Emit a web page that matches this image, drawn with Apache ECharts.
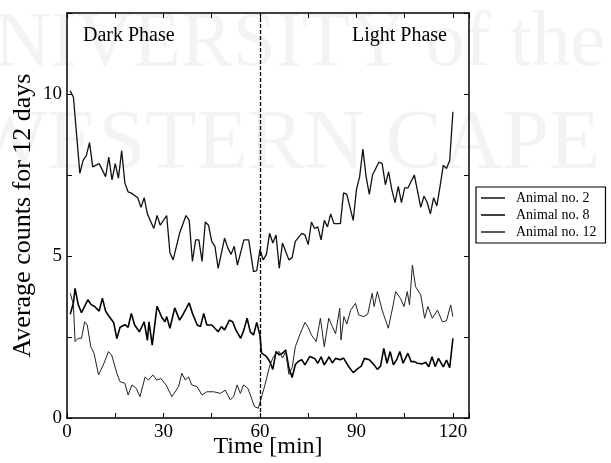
<!DOCTYPE html>
<html>
<head>
<meta charset="utf-8">
<script src="https://cdn.jsdelivr.net/npm/echarts@6/dist/echarts.min.js"></script>
<style>html,body{margin:0;padding:0;background:#fff;}#c{width:611px;height:463px;}</style>
</head>
<body>
<div id="c"></div>
<script>
// ---- Data ----
var seriesNames = ['Animal no. 2', 'Animal no. 8', 'Animal no. 12'];
var xTickLabels = [0, 30, 60, 90, 120];
var yTickLabels = [0, 5, 10];
var phaseLabels = ['Dark Phase', 'Light Phase'];
var phaseBoundary = 60;

var timeA = [1,2,4,5,6,7,8,10,12,13,14,15,16,17,18,19,20,22,23,24,25,27,28,29,31,32,33,35,37,38,39,40,41,42,43,44,45,46,47,49,50,51,52,53,55,56.5,58,59,60,61,62,63,64,65,66,67,69,70,71,73,74,75,76,77,78,79,80,81,82,83,85,86,87,89,90,91,92,93,94,95,97,98,99,100,101,102,103,104,105,106,108,109,110,111,112,113,114,115,116,117,118,119,120];
var valA  = [10.1,9.9,7.55,7.95,8.1,8.5,7.75,7.85,7.45,8.05,7.35,7.85,7.4,8.25,7.25,6.98,6.94,6.8,6.5,6.8,6.3,5.85,6.25,5.95,6.25,5.1,4.88,5.7,6.25,6.1,4.83,5.5,5.5,4.83,6.05,5.95,5.45,5.3,4.62,5.55,5.25,5.05,5.3,4.72,5.5,5.5,4.52,4.55,5.2,4.88,5.05,5.7,5.4,5.65,4.62,5.4,4.88,4.95,5.45,5.7,5.65,5.35,6.05,5.85,5.9,5.5,6.1,5.9,6.3,6.0,6.0,6.95,6.9,6.1,7.05,7.45,8.3,7.45,6.9,7.5,7.9,7.85,7.2,7.6,7.05,6.65,7.15,6.65,7.1,7.1,7.5,7.0,6.5,6.85,6.65,6.3,6.8,6.55,7.15,7.8,7.7,7.95,9.45];

var timeB = [1,2,2.5,3.5,4.5,6.5,7.5,8.5,10,11,12,13,14.5,15.5,16.5,18,19,20,21,22.5,24,25,25.5,26.5,28,29.5,30.5,31,32,33.5,35,36,38,39,40.5,41.5,42.5,43.5,45,46,47,48,49,50.5,51.5,52.5,54,55,56,57,58,59,60,60.5,62,63,64,65,66,67,68,69,70,71,72,73,74,75.5,77,78,79,80,81.5,82.5,83.5,85,86,87.5,89,90.5,91.5,92.5,94,95.5,96.5,97.5,98.5,99.5,100.5,101.5,102.5,103.5,104.5,106,107,108,109,110.5,111.5,112.5,113.5,114.5,115.5,117,118,119,120];
var valB  = [3.2,3.55,4.0,3.5,3.25,3.65,3.5,3.45,3.3,3.7,3.3,3.15,2.95,2.45,2.8,2.88,2.8,3.23,2.88,2.66,2.97,2.4,2.97,2.25,3.45,3.1,2.97,3.13,2.77,3.4,3.02,3.18,3.55,3.23,2.87,2.82,3.23,2.87,2.87,2.77,2.66,2.82,2.72,3.02,2.97,2.72,2.46,2.72,3.08,2.66,2.56,2.95,2.55,2.0,1.9,1.75,1.5,2.05,1.95,2.0,2.1,1.55,1.25,1.65,1.75,1.8,1.64,1.9,1.84,1.69,1.89,1.64,1.89,1.7,1.84,1.8,1.85,1.6,1.4,1.53,1.6,1.84,1.8,1.64,1.5,1.6,2.15,1.69,2.05,1.64,1.8,2.05,1.69,2.0,1.74,1.74,1.69,1.67,1.72,1.58,1.89,1.58,1.84,1.58,1.79,1.55,2.46];

var timeC = [1,2,2.5,3.5,4.5,5.5,6.3,7.4,8.4,9.8,11.3,12.9,13.9,15.5,16.5,18,19,20.2,21.5,22.7,24.3,25.3,26.7,27.9,29.2,30.8,32.6,34.7,35.7,36.8,37.8,38.8,40.4,42,43.5,45.6,47.7,49.2,50.8,51.8,52.9,53.9,54.9,56.2,57.2,58.3,59.5,60,61.5,63,64,65,66,67,68,69,70,71,72.5,74,75,76,77.5,78.8,80,81.4,82.5,83.5,84.8,85.2,86.1,87,88.2,89.7,90.7,92.3,93.5,94.9,95.5,96.5,98,99.9,101.1,102.2,103.7,104.8,105.8,106.5,107.4,108.4,110,111.2,112.2,113.6,115.2,116.7,118,119.3,120];
var valC  = [3.85,3.5,2.36,2.46,2.46,2.97,2.87,2.2,2.0,1.33,1.64,2.05,1.94,1.38,1.12,1.07,0.71,1.02,0.92,0.66,1.27,1.17,1.33,1.17,1.22,1.02,0.66,0.97,1.38,1.17,1.27,1.02,0.97,0.71,0.81,0.81,0.76,0.86,0.56,0.66,1.02,0.76,1.02,0.92,0.66,0.35,0.3,0.35,1.0,1.6,1.85,2.0,2.05,1.85,2.05,1.35,1.55,2.2,2.6,2.95,2.8,2.56,2.36,3.08,2.2,3.08,2.82,2.6,3.39,2.41,3.13,2.9,3.33,3.54,3.18,3.13,3.2,3.85,3.44,3.9,3.33,2.77,3.33,3.9,3.69,3.44,3.9,3.49,4.72,4.05,3.8,3.08,3.44,3.08,3.33,2.97,3.0,3.49,3.13];

function pairs(t, v) { return t.map(function (x, i) { return [x, v[i]]; }); }

var FONT = '"Liberation Serif", "Times New Roman", serif';
var chart = echarts.init(document.getElementById('c'), null, {renderer: 'canvas'});

var baseX = {
  type: 'value', min: 0, max: 125, interval: 15,
  axisLine: {show: true, onZero: false, lineStyle: {color: '#000', width: 1.5}},
  axisTick: {show: true, inside: true, length: 5, lineStyle: {color: '#000', width: 1}},
  splitLine: {show: false}
};
var baseY = {
  type: 'value', min: 0, max: 12.5, interval: 2.5,
  axisLine: {show: true, onZero: false, lineStyle: {color: '#000', width: 1.5}},
  axisTick: {show: true, inside: true, length: 5, lineStyle: {color: '#000', width: 1}},
  splitLine: {show: false}
};

var lineColors = ['#111', '#000', '#222'];

var option = {
  backgroundColor: '#fff',
  animation: false,
  grid: {left: 67, right: 142, top: 13, bottom: 45, containLabel: false, outerBoundsMode: 'none'},
  graphic: [
    {type: 'text', left: -62, top: 6, z: -10, silent: true,
      style: {text: 'UNIVERSITY of the', fill: '#f3f3f3', font: '78px ' + FONT}},
    {type: 'text', left: -32, top: 104, z: -10, silent: true,
      style: {text: 'WESTERN CAPE', fill: '#f3f3f3', font: '84px ' + FONT}},
    {type: 'text', left: 83, top: 26, z: 10,
      style: {text: phaseLabels[0], fill: '#000', font: '20px ' + FONT}},
    {type: 'text', left: 352, top: 26, z: 10,
      style: {text: phaseLabels[1], fill: '#000', font: '20px ' + FONT}}
  ],
  legend: {
    orient: 'vertical', left: 476, top: 187,
    data: seriesNames.map(function (n) { return {name: n, icon: 'rect'}; }),
    backgroundColor: '#fff',
    borderColor: '#000', borderWidth: 1.2, borderRadius: 0,
    padding: [4, 9, 4, 5],
    itemGap: 3, itemWidth: 24, itemHeight: 1.5,
    textStyle: {fontFamily: FONT, fontSize: 14, color: '#000', padding: [0, 0, 0, 6], lineHeight: 14}
  },
  xAxis: [
    Object.assign({}, baseX, {
      position: 'bottom',
      name: 'Time [min]', nameLocation: 'middle', nameGap: 17, nameMoveOverlap: false,
      nameTextStyle: {fontFamily: FONT, fontSize: 24, color: '#000'},
      axisLabel: {show: true, margin: 5, color: '#000', fontFamily: FONT, fontSize: 19,
        formatter: function (v) { return xTickLabels.indexOf(v) >= 0 ? String(v) : ''; }}
    }),
    Object.assign({}, baseX, {position: 'top', axisLabel: {show: false}})
  ],
  yAxis: [
    Object.assign({}, baseY, {
      position: 'left',
      name: 'Average counts for 12 days', nameLocation: 'middle', nameGap: 31, nameMoveOverlap: false,
      nameTextStyle: {fontFamily: FONT, fontSize: 26, color: '#000'},
      axisLabel: {show: true, margin: 5, color: '#000', fontFamily: FONT, fontSize: 19,
        formatter: function (v) { return yTickLabels.indexOf(v) >= 0 ? String(v) : ''; }}
    }),
    Object.assign({}, baseY, {position: 'right', axisLabel: {show: false}})
  ],
  series: [
    {name: seriesNames[0], type: 'line', data: pairs(timeA, valA), symbol: 'none',
      lineStyle: {color: lineColors[0], width: 1.3}, itemStyle: {color: lineColors[0]},
      markLine: {silent: true, symbol: 'none', label: {show: false},
        lineStyle: {color: '#000', type: [4, 2], width: 1.3},
        data: [{xAxis: phaseBoundary}]}},
    {name: seriesNames[1], type: 'line', data: pairs(timeB, valB), symbol: 'none',
      lineStyle: {color: lineColors[1], width: 1.6}, itemStyle: {color: lineColors[1]}},
    {name: seriesNames[2], type: 'line', data: pairs(timeC, valC), symbol: 'none',
      lineStyle: {color: lineColors[2], width: 1}, itemStyle: {color: lineColors[2]}}
  ]
};
chart.setOption(option);
</script>
</body>
</html>
